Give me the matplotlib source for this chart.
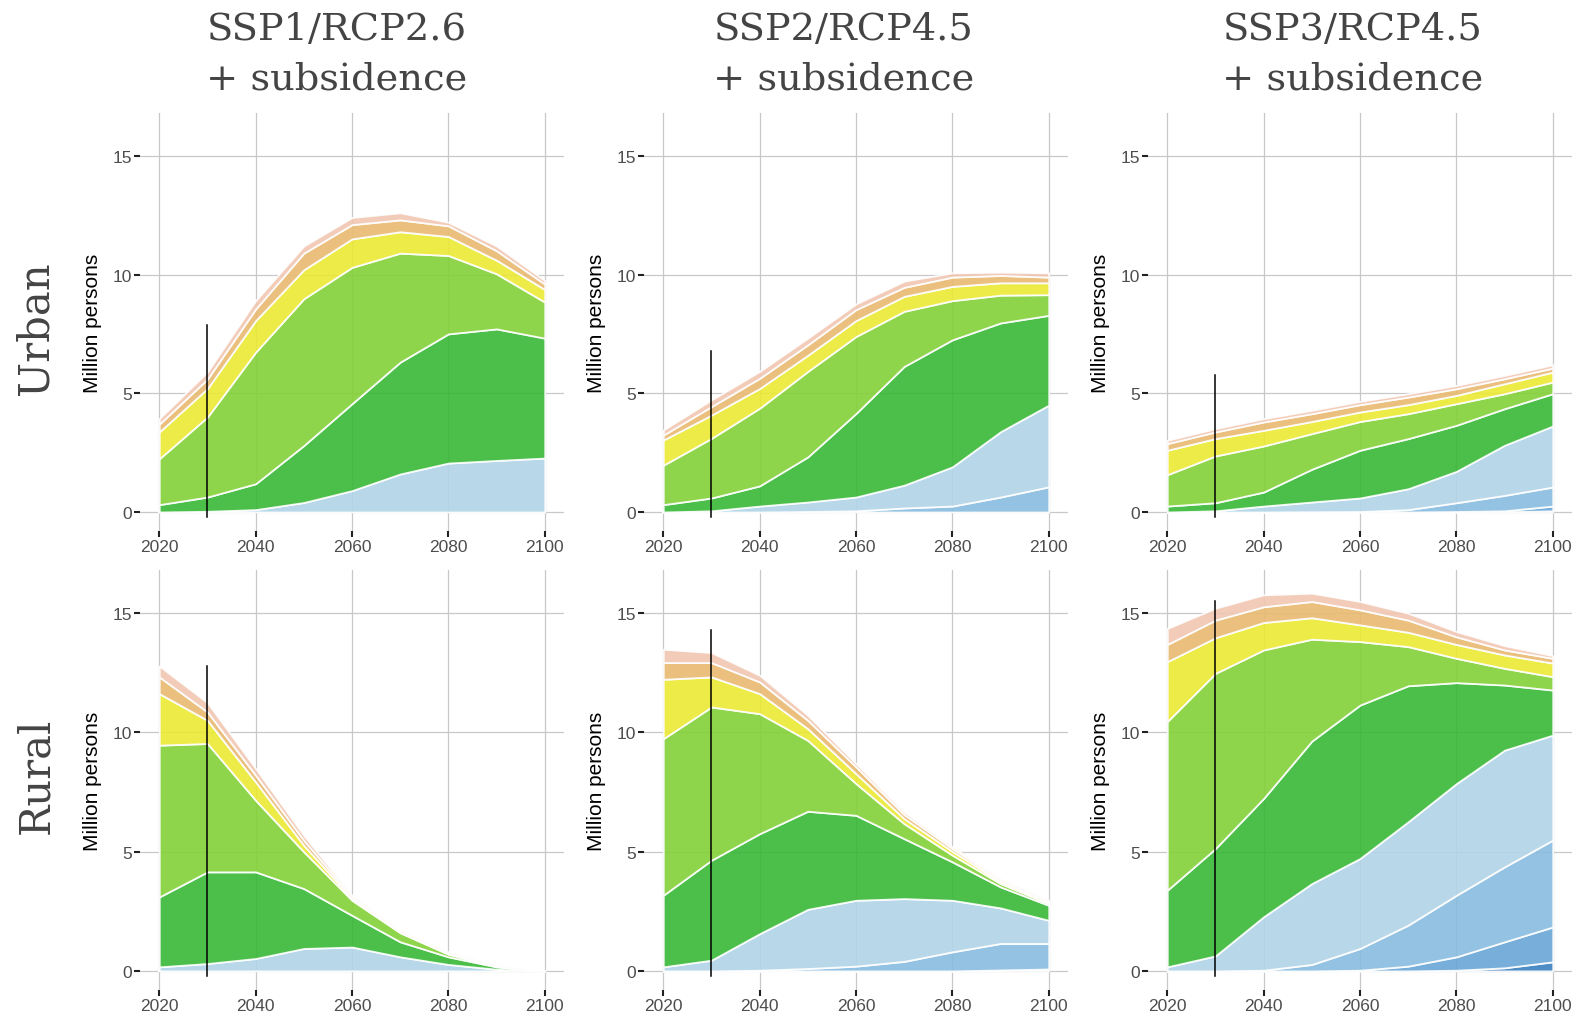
import numpy as np
import matplotlib
matplotlib.use("Agg")
import matplotlib.pyplot as plt

plt.rcParams['font.family'] = ['Liberation Sans', 'DejaVu Sans']

years = [2020, 2030, 2040, 2050, 2060, 2070, 2080, 2090, 2100]

# layers from bottom to top (million persons per layer)
layer_colors = ['#3B80C0', '#68A5D6', '#88BCDF', '#B1D4E8', '#38B837',
                '#82D137', '#EBE933', '#E9BA71', '#F1C7B2']

urban_ssp1 = [
    [0, 0, 0, 0, 0, 0, 0, 0, 0],
    [0, 0, 0, 0, 0, 0, 0, 0, 0],
    [0, 0, 0, 0, 0, 0, 0, 0, 0],
    [0, 0.03, 0.1, 0.4, 0.9, 1.6, 2.06, 2.17, 2.27],
    [0.31, 0.6, 1.09, 2.4, 3.66, 4.71, 5.44, 5.54, 5.05],
    [1.93, 3.37, 5.54, 6.18, 5.74, 4.59, 3.3, 2.32, 1.52],
    [1.13, 1.2, 1.33, 1.22, 1.2, 0.9, 0.8, 0.57, 0.53],
    [0.33, 0.4, 0.49, 0.7, 0.6, 0.5, 0.45, 0.4, 0.23],
    [0.23, 0.3, 0.35, 0.3, 0.3, 0.3, 0.15, 0.2, 0.15],
]
urban_ssp2 = [
    [0, 0, 0, 0, 0, 0, 0, 0, 0],
    [0, 0, 0, 0, 0, 0, 0, 0, 0],
    [0, 0, 0, 0.02, 0.05, 0.17, 0.25, 0.63, 1.06],
    [0, 0.05, 0.25, 0.4, 0.58, 0.96, 1.65, 2.75, 3.44],
    [0.31, 0.54, 0.85, 1.9, 3.52, 5.0, 5.35, 4.58, 3.78],
    [1.66, 2.51, 3.27, 3.6, 3.24, 2.32, 1.65, 1.17, 0.87],
    [1.06, 0.98, 0.83, 0.68, 0.67, 0.63, 0.6, 0.52, 0.5],
    [0.21, 0.36, 0.43, 0.44, 0.46, 0.38, 0.39, 0.31, 0.24],
    [0.21, 0.28, 0.29, 0.28, 0.24, 0.26, 0.18, 0.14, 0.18],
]
urban_ssp3 = [
    [0, 0, 0, 0, 0, 0, 0, 0.01, 0.05],
    [0, 0, 0, 0, 0, 0, 0.02, 0.04, 0.2],
    [0, 0, 0, 0.01, 0.02, 0.1, 0.37, 0.65, 0.8],
    [0, 0.05, 0.25, 0.41, 0.57, 0.88, 1.32, 2.11, 2.57],
    [0.25, 0.34, 0.59, 1.38, 2.01, 2.11, 1.94, 1.54, 1.36],
    [1.32, 1.97, 1.94, 1.5, 1.21, 1.05, 0.91, 0.63, 0.49],
    [1.03, 0.73, 0.66, 0.51, 0.4, 0.38, 0.35, 0.42, 0.42],
    [0.28, 0.28, 0.35, 0.33, 0.31, 0.32, 0.28, 0.21, 0.17],
    [0.14, 0.14, 0.14, 0.14, 0.14, 0.14, 0.14, 0.14, 0.14],
]
rural_ssp1 = [
    [0, 0, 0, 0, 0, 0, 0, 0, 0],
    [0, 0, 0, 0, 0, 0, 0, 0, 0],
    [0, 0, 0, 0, 0, 0, 0, 0, 0],
    [0.17, 0.31, 0.52, 0.94, 1.0, 0.59, 0.27, 0.07, 0],
    [2.93, 3.84, 3.63, 2.51, 1.33, 0.63, 0.32, 0.1, 0],
    [6.36, 5.38, 3.0, 1.54, 0.63, 0.38, 0.11, 0.02, 0],
    [2.16, 0.97, 0.77, 0.27, 0.07, 0.03, 0.03, 0.01, 0],
    [0.7, 0.35, 0.28, 0.21, 0.07, 0.03, 0.02, 0.01, 0],
    [0.46, 0.39, 0.28, 0.21, 0.07, 0.04, 0.05, 0.03, 0],
]
rural_ssp2 = [
    [0, 0, 0, 0, 0, 0, 0, 0.04, 0.08],
    [0, 0, 0, 0, 0, 0, 0, 0, 0],
    [0, 0, 0.03, 0.1, 0.2, 0.4, 0.8, 1.11, 1.07],
    [0.17, 0.45, 1.53, 2.48, 2.76, 2.63, 2.16, 1.49, 0.97],
    [3.0, 4.19, 4.19, 4.11, 3.56, 2.51, 1.61, 0.88, 0.63],
    [6.56, 6.42, 5.03, 2.97, 1.33, 0.63, 0.28, 0.14, 0.07],
    [2.49, 1.26, 0.84, 0.49, 0.42, 0.21, 0.16, 0.07, 0.07],
    [0.7, 0.6, 0.49, 0.35, 0.28, 0.17, 0.12, 0.07, 0.03],
    [0.56, 0.42, 0.28, 0.21, 0.14, 0.11, 0.07, 0.07, 0.04],
]
rural_ssp3 = [
    [0, 0, 0, 0, 0, 0, 0.03, 0.13, 0.38],
    [0, 0, 0, 0, 0.03, 0.2, 0.56, 1.09, 1.46],
    [0, 0, 0.03, 0.27, 0.91, 1.72, 2.58, 3.14, 3.64],
    [0.17, 0.63, 2.24, 3.39, 3.77, 4.33, 4.68, 4.89, 4.4],
    [3.21, 4.5, 4.96, 5.97, 6.43, 5.7, 4.23, 2.73, 1.89],
    [7.07, 7.34, 6.22, 4.27, 2.66, 1.64, 1.02, 0.7, 0.56],
    [2.51, 1.49, 1.15, 0.9, 0.7, 0.6, 0.58, 0.56, 0.57],
    [0.72, 0.74, 0.66, 0.68, 0.63, 0.51, 0.32, 0.21, 0.2],
    [0.67, 0.5, 0.5, 0.35, 0.35, 0.29, 0.22, 0.18, 0.11],
]

# height of the black marker line at 2030 in each panel
marker_top_urban = [7.88, 6.76, 5.78]
marker_top_rural = [12.78, 14.3, 15.5]

col_titles = ['SSP1/RCP2.6', 'SSP2/RCP4.5', 'SSP3/RCP4.5']
row_titles = ['Urban', 'Rural']

panels = [[urban_ssp1, urban_ssp2, urban_ssp3],
          [rural_ssp1, rural_ssp2, rural_ssp3]]
marker_tops = [marker_top_urban, marker_top_rural]

W, H = 1585, 1020
fig = plt.figure(figsize=(W / 100, H / 100), dpi=100)

col_left = [140, 644, 1148]
col_width = 424
row_top = [114, 571]
row_bottom = [532, 991]

for r in range(2):
    for c in range(3):
        ax = fig.add_axes([col_left[c] / W, 1 - row_bottom[r] / H,
                           col_width / W, (row_bottom[r] - row_top[r]) / H])
        ax.stackplot(years, *panels[r][c], colors=layer_colors, alpha=0.9,
                     edgecolor='white', linewidth=1.3)
        ax.plot([2030, 2030], [-0.2, marker_tops[r][c]], color='black', lw=1.1, zorder=5)
        ax.set_xlim(2016, 2104)
        ax.set_ylim(-0.8, 16.8)
        ax.set_xticks([2020, 2040, 2060, 2080, 2100])
        ax.set_yticks([0, 5, 10, 15])
        ax.grid(True, color='#c8c8c8', lw=0.9)
        ax.set_axisbelow(True)
        for s in ax.spines.values():
            s.set_visible(False)
        ax.tick_params(colors='#222222', labelcolor='#4d4d4d', labelsize=12.5,
                       length=4, width=1.5, pad=2)
        fig.text((col_left[c] - 48) / W, 1 - (row_top[r] + row_bottom[r]) / 2 / H,
                 'Million persons', rotation=90, ha='center', va='center',
                 fontsize=15, color='black')

title_x = [337, 844, 1353]
for c in range(3):
    fig.text(title_x[c] / W, 1 - 40 / H, col_titles[c], ha='center', va='baseline',
             fontsize=27.6, family='DejaVu Serif', color='#444444')
    fig.text(title_x[c] / W, 1 - 90 / H, '+ subsidence', ha='center', va='baseline',
             fontsize=27.6, family='DejaVu Serif', color='#444444')

row_y = [328, 776]
for r in range(2):
    fig.text(36 / W, 1 - row_y[r] / H, row_titles[r], rotation=90, ha='center',
             va='center', fontsize=30, family='DejaVu Serif', color='#444444')

fig.savefig('out.png', dpi=100)
